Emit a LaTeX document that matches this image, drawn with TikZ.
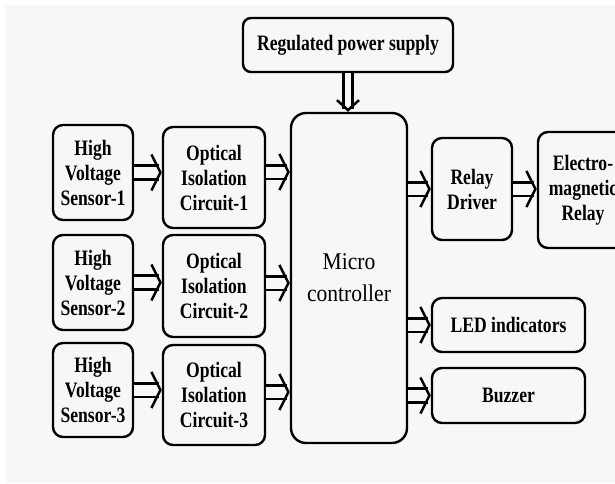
\documentclass[tikz,border=0pt]{standalone}
\usepackage{fontspec}
\usetikzlibrary{arrows.meta}
\newfontfamily\lab{Liberation Serif}[FakeStretch=0.8]
\newfontfamily\mcfont{Liberation Serif}[FakeStretch=0.9]
\definecolor{bgc}{RGB}{247,247,247}
\begin{document}
\begin{tikzpicture}[x=1pt,y=-1pt,
  box/.style={draw, line width=2.4pt, rounded corners=10pt, inner sep=0pt, align=center,
    font=\lab\bfseries\fontsize{22}{25}\selectfont},
  dar/.style={draw, double=bgc, double distance=11pt, line width=2.6pt,
    -{Straight Barb[length=9pt,width=36pt,line width=2.5pt 0]}},
  var/.style={draw, double=bgc, double distance=6pt, line width=3pt,
    -{Straight Barb[length=10pt,width=22pt,line width=2.5pt 0]}}]
\useasboundingbox (0,0) rectangle (615,483);
\fill[white] (0,0) rectangle (615,483);
\fill[bgc] (6,5) rectangle (615,483);
\begin{scope}
\clip (0,0) rectangle (615,483);
\node[box, minimum width=210pt, minimum height=54pt, rounded corners=8pt] (ps) at (348,45) {Regulated power supply};
\node[box, minimum width=80pt, minimum height=95pt] (s1) at (93,172.5) {High\\Voltage\\Sensor-1};
\node[box, minimum width=80pt, minimum height=95pt] (s2) at (93,282.5) {High\\Voltage\\Sensor-2};
\node[box, minimum width=80pt, minimum height=94pt] (s3) at (93,390) {High\\Voltage\\Sensor-3};
\node[box, minimum width=102pt, minimum height=101pt] (o1) at (214,177.5) {Optical\\Isolation\\Circuit-1};
\node[box, minimum width=102pt, minimum height=102pt] (o2) at (214,286) {Optical\\Isolation\\Circuit-2};
\node[box, minimum width=102pt, minimum height=100pt] (o3) at (214,395) {Optical\\Isolation\\Circuit-3};
\node[box, minimum width=116pt, minimum height=330pt, rounded corners=15pt,
  font=\mcfont\fontsize{24}{32}\selectfont] (mc) at (349,278) {Micro\\controller};
\node[box, minimum width=80pt, minimum height=102pt] (rd) at (472,189) {Relay\\Driver};
\node[box, minimum width=90pt, minimum height=116pt] (em) at (583,190) {Electro-\\magnetic\\Relay};
\node[box, minimum width=153pt, minimum height=54pt] (led) at (508.5,325) {LED indicators};
\node[box, minimum width=153pt, minimum height=55pt] (bz) at (508.5,395.5) {Buzzer};
\end{scope}
\draw[var] (ps.south) -- (ps.south |- mc.north);
\draw[dar] (s1.east) -- (s1.east -| o1.west);
\draw[dar] (s2.east) -- (s2.east -| o2.west);
\draw[dar] (s3.east) -- (s3.east -| o3.west);
\coordinate (m1) at (0,172);
\coordinate (m2) at (0,283);
\coordinate (m3) at (0,392);
\draw[dar] (o1.east |- m1) -- (mc.west |- m1);
\draw[dar] (o2.east |- m2) -- (mc.west |- m2);
\draw[dar] (o3.east |- m3) -- (mc.west |- m3);
\draw[dar] (mc.east |- rd.west) -- (rd.west);
\draw[dar] (rd.east) -- (rd.east -| em.west);
\draw[dar] (mc.east |- led.west) -- (led.west);
\draw[dar] (mc.east |- bz.west) -- (bz.west);
\end{tikzpicture}
\end{document}
